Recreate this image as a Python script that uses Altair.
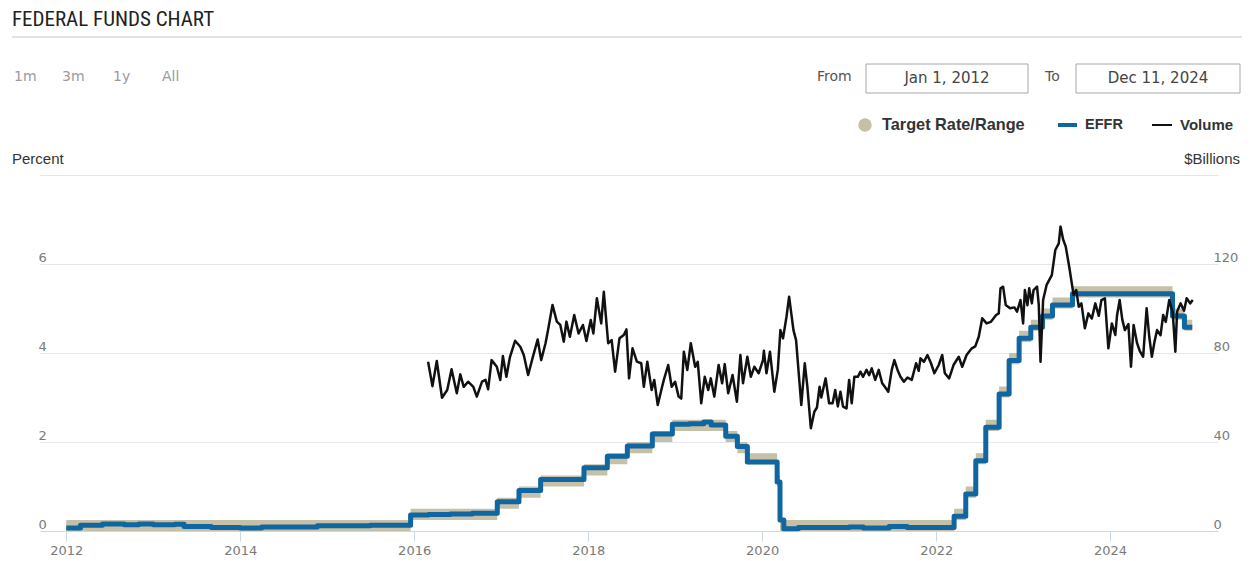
import altair as alt
import pandas as pd
import numpy as np

# ---------------- data ----------------
# Target range (step changes)
target_dates = ["2012-01-01", "2015-12-17", "2016-12-15", "2017-03-16", "2017-06-15",
                "2017-12-14", "2018-03-22", "2018-06-14", "2018-09-27", "2018-12-20",
                "2019-08-01", "2019-09-19", "2019-10-31", "2020-03-04", "2020-03-16",
                "2022-03-17", "2022-05-05", "2022-06-16", "2022-07-28", "2022-09-22",
                "2022-11-03", "2022-12-15", "2023-02-02", "2023-03-23", "2023-05-04",
                "2023-07-27", "2024-09-19", "2024-11-08", "2024-12-11"]
target_lower = [0.0, 0.25, 0.5, 0.75, 1.0, 1.25, 1.5, 1.75, 2.0, 2.25,
                2.0, 1.75, 1.5, 1.0, 0.0, 0.25, 0.75, 1.5, 2.25, 3.0,
                3.75, 4.25, 4.5, 4.75, 5.0, 5.25, 4.75, 4.5, 4.5]
target_upper = [0.25, 0.5, 0.75, 1.0, 1.25, 1.5, 1.75, 2.0, 2.25, 2.5,
                2.25, 2.0, 1.75, 1.25, 0.25, 0.5, 1.0, 1.75, 2.5, 3.25,
                4.0, 4.5, 4.75, 5.0, 5.25, 5.5, 5.0, 4.75, 4.75]

# Effective federal funds rate (percent)
effr_dates = ["2012-01-01", "2012-03-01", "2012-06-01", "2012-09-01", "2012-11-01",
              "2013-01-01", "2013-04-01", "2013-05-10", "2013-09-01", "2014-01-01",
              "2014-04-01", "2014-07-01", "2014-11-20", "2015-04-01", "2015-07-01",
              "2015-10-01", "2015-12-17", "2016-03-01", "2016-06-01", "2016-09-01",
              "2016-12-15", "2017-03-16", "2017-06-15", "2017-12-14", "2018-03-22",
              "2018-06-14", "2018-09-27", "2018-12-20", "2019-03-01", "2019-05-01",
              "2019-06-01", "2019-08-01", "2019-09-19", "2019-10-31", "2020-03-04",
              "2020-03-16", "2020-04-01", "2020-06-01", "2021-01-01", "2021-03-01",
              "2021-06-17", "2021-09-01", "2022-01-01", "2022-03-17", "2022-05-05",
              "2022-06-16", "2022-07-28", "2022-09-22", "2022-11-03", "2022-12-15",
              "2023-02-02", "2023-03-23", "2023-05-04", "2023-07-27", "2024-09-19",
              "2024-11-08", "2024-12-11"]
effr_rate = [0.07, 0.13, 0.16, 0.14, 0.16,
             0.14, 0.15, 0.10, 0.08, 0.07,
             0.09, 0.09, 0.12, 0.12, 0.13,
             0.13, 0.36, 0.37, 0.38, 0.40,
             0.66, 0.91, 1.16, 1.42, 1.68,
             1.91, 2.18, 2.40, 2.41, 2.45,
             2.38, 2.13, 1.90, 1.55, 1.10,
             0.25, 0.05, 0.08, 0.09, 0.07,
             0.10, 0.08, 0.08, 0.33, 0.83,
             1.58, 2.33, 3.08, 3.83, 4.33,
             4.58, 4.83, 5.08, 5.33, 4.83,
             4.58, 4.58]

# Volume ($ billions), dates as decimal years
vol_year = [2016.16, 2016.21, 2016.26, 2016.32, 2016.38, 2016.43, 2016.49, 2016.53, 2016.57, 2016.62,
            2016.68, 2016.72, 2016.78, 2016.82, 2016.85, 2016.89, 2016.95, 2016.99, 2017.02, 2017.06,
            2017.10, 2017.16, 2017.22, 2017.26, 2017.31, 2017.36, 2017.42, 2017.46, 2017.51, 2017.54,
            2017.59, 2017.64, 2017.68, 2017.72, 2017.75, 2017.79, 2017.84, 2017.89, 2017.94, 2017.98,
            2018.03, 2018.06, 2018.10, 2018.15, 2018.18, 2018.23, 2018.27, 2018.31, 2018.36, 2018.41,
            2018.44, 2018.47, 2018.51, 2018.56, 2018.61, 2018.64, 2018.68, 2018.73, 2018.76, 2018.80,
            2018.85, 2018.87, 2018.92, 2018.96, 2019.00, 2019.04, 2019.07, 2019.10, 2019.14, 2019.18,
            2019.23, 2019.26, 2019.30, 2019.34, 2019.38, 2019.41, 2019.45, 2019.50, 2019.54, 2019.57,
            2019.61, 2019.66, 2019.71, 2019.75, 2019.78, 2019.83, 2019.87, 2019.91, 2019.96, 2020.01,
            2020.02, 2020.05, 2020.09, 2020.14, 2020.18, 2020.21, 2020.24, 2020.28, 2020.31, 2020.36,
            2020.39, 2020.43, 2020.45, 2020.49, 2020.52, 2020.56, 2020.60, 2020.63, 2020.66, 2020.68,
            2020.73, 2020.77, 2020.81, 2020.84, 2020.87, 2020.90, 2020.93, 2020.97, 2021.00, 2021.03,
            2021.06, 2021.10, 2021.13, 2021.16, 2021.20, 2021.23, 2021.26, 2021.30, 2021.34, 2021.38,
            2021.41, 2021.45, 2021.49, 2021.52, 2021.56, 2021.59, 2021.63, 2021.67, 2021.72, 2021.77,
            2021.80, 2021.82, 2021.86, 2021.90, 2021.94, 2021.98, 2022.03, 2022.07, 2022.10, 2022.15,
            2022.20, 2022.26, 2022.30, 2022.35, 2022.41, 2022.45, 2022.49, 2022.53, 2022.58, 2022.63,
            2022.69, 2022.72, 2022.74, 2022.77, 2022.80, 2022.85, 2022.90, 2022.93, 2022.97, 2023.00,
            2023.02, 2023.05, 2023.07, 2023.10, 2023.12, 2023.16, 2023.18, 2023.20, 2023.23, 2023.27,
            2023.33, 2023.37, 2023.41, 2023.43, 2023.46, 2023.49, 2023.53, 2023.58, 2023.61, 2023.64,
            2023.67, 2023.71, 2023.75, 2023.79, 2023.83, 2023.87, 2023.90, 2023.94, 2023.98, 2024.02,
            2024.06, 2024.08, 2024.11, 2024.14, 2024.17, 2024.21, 2024.24, 2024.27, 2024.31, 2024.34,
            2024.38, 2024.42, 2024.45, 2024.48, 2024.51, 2024.54, 2024.58, 2024.61, 2024.64, 2024.68,
            2024.72, 2024.75, 2024.77, 2024.81, 2024.85, 2024.88, 2024.92, 2024.95]
vol_bil = [76.1, 65.1, 76.4, 59.9, 63.4, 72.7, 61.9, 70.4, 64.8, 67.1,
           64.8, 60.4, 67.1, 67.9, 63.7, 76.8, 73.8, 67.9, 78.6, 69.3,
           78.0, 85.5, 82.8, 79.1, 70.1, 77.6, 86.1, 76.8, 84.4, 90.6,
           101.6, 94.1, 92.6, 85.1, 94.1, 87.3, 97.1, 88.8, 92.6, 85.4,
           94.8, 88.8, 104.6, 93.3, 107.5, 84.4, 85.8, 71.6, 86.6, 88.1,
           90.6, 68.6, 82.1, 76.1, 75.4, 64.8, 76.1, 63.4, 67.9, 56.6,
           64.8, 67.9, 74.6, 64.8, 67.1, 60.4, 59.5, 80.6, 72.4, 84.4,
           73.8, 76.0, 57.4, 69.3, 63.4, 68.6, 60.4, 74.6, 66.4, 75.0,
           61.9, 70.1, 58.1, 79.1, 66.4, 78.3, 69.3, 73.8, 70.9, 76.8,
           81.0, 70.9, 80.6, 62.6, 72.4, 90.3, 86.6, 96.3, 105.3, 90.3,
           85.8, 66.4, 56.6, 75.4, 64.8, 46.2, 53.6, 55.5, 64.8, 60.0,
           68.6, 57.4, 57.4, 63.4, 56.0, 62.6, 55.9, 55.1, 67.9, 57.4,
           69.3, 69.3, 71.6, 69.3, 72.4, 70.0, 73.1, 67.9, 72.4, 66.4,
           64.8, 62.6, 72.4, 76.8, 72.0, 69.3, 67.1, 69.0, 67.9, 75.4,
           72.0, 77.6, 76.0, 79.1, 75.5, 70.9, 74.6, 79.1, 70.9, 68.6,
           74.6, 78.3, 73.8, 79.1, 82.1, 83.0, 87.3, 95.6, 93.3, 94.0,
           97.1, 97.8, 109.1, 109.8, 101.6, 100.1, 100.5, 98.6, 103.8, 93.3,
           108.3, 101.5, 109.1, 102.3, 108.3, 109.8, 101.6, 76.1, 103.8, 110.6,
           115.0, 126.3, 129.3, 136.8, 131.0, 127.8, 118.8, 106.1, 108.3, 100.8,
           102.3, 91.1, 97.8, 95.5, 102.3, 96.7, 103.8, 104.6, 82.1, 93.3,
           88.1, 97.0, 103.8, 95.0, 90.3, 93.0, 73.8, 92.6, 84.4, 81.0,
           78.3, 100.1, 87.3, 78.3, 85.0, 90.3, 88.0, 97.1, 94.0, 103.8,
           98.0, 80.6, 98.6, 102.3, 99.0, 104.6, 102.3, 103.8]

tick_years = [2012, 2014, 2016, 2018, 2020, 2022, 2024]
left_ticks = [0, 2, 4, 6, 8]
right_ticks = [0, 40, 80, 120, 160]

# ---------------- tables ----------------
target_df = pd.DataFrame({"date": pd.to_datetime(target_dates),
                          "lower": target_lower, "upper": target_upper})
effr_df = pd.DataFrame({"date": pd.to_datetime(effr_dates), "rate": effr_rate})
vy = np.array(vol_year)
vol_df = pd.DataFrame({
    "date": pd.Timestamp("2012-01-01") + pd.to_timedelta((vy - 2012.0) * 365.25, unit="D"),
    "volume": vol_bil})

TAN = "#c6c0a6"
BLUE = "#0f66a1"
GRID = "#e4e7ee"
AXIS = "#ccd6eb"
LABEL = "#7a7a7a"
FONT = "DejaVu Sans"

x_scale = alt.Scale(domain=[alt.DateTime(year=2011, month=9, date=13),
                            alt.DateTime(year=2025, month=3, date=29)])
x_axis = alt.Axis(values=[alt.DateTime(year=y, month=1, date=1) for y in tick_years],
                  format="%Y", title=None, grid=False, domain=True, domainColor=AXIS,
                  tickColor=AXIS, tickSize=10, labelPadding=3, labelFont=FONT,
                  labelFontSize=13, labelColor=LABEL, labelFlush=False)

left_axis = alt.Axis(values=left_ticks, title=None, grid=True, gridColor=GRID,
                     domain=False, ticks=False, tickSize=0, labelAlign="left",
                     labelPadding=2, labelBaseline="alphabetic", labelOffset=-3,
                     labelFont=FONT, labelFontSize=13, labelColor=LABEL,
                     labelExpr="datum.value == 8 ? '' : datum.label")

band = alt.Chart(target_df).mark_area(interpolate="step-after", color=TAN, opacity=1).encode(
    x=alt.X("date:T", scale=x_scale, axis=x_axis),
    y=alt.Y("lower:Q", scale=alt.Scale(domain=[0, 8], nice=False), axis=left_axis),
    y2="upper:Q",
)

effr = alt.Chart(effr_df).mark_line(interpolate="step-after", color=BLUE, strokeWidth=5,
                                    strokeJoin="round").encode(
    x=alt.X("date:T", scale=x_scale, axis=x_axis),
    y=alt.Y("rate:Q", scale=alt.Scale(domain=[0, 8], nice=False), axis=left_axis),
)

rates = alt.layer(band, effr)

vol = alt.Chart(vol_df).mark_line(color="#111111", strokeWidth=2.5, strokeJoin="round").encode(
    x=alt.X("date:T", scale=x_scale, axis=x_axis),
    y=alt.Y("volume:Q", scale=alt.Scale(domain=[0, 160], nice=False),
            axis=alt.Axis(orient="right", values=right_ticks, title=None, grid=False,
                          domain=False, ticks=False, tickSize=0, labelAlign="left",
                          labelPadding=-5, labelBaseline="alphabetic", labelOffset=-3,
                          labelFont=FONT, labelFontSize=13, labelColor=LABEL,
                          labelExpr="datum.value == 160 ? '' : datum.label")),
)

# ---------------- decorations (page coords minus plot origin 40,175) ----------------
one = pd.DataFrame({"k": [0]})


def txt(s, x, y, size=14, color="#333", font="Liberation Sans", weight="normal", align="left"):
    return alt.Chart(one).mark_text(text=s, fontSize=size, color=color, font=font,
                                    fontWeight=weight, align=align, baseline="middle").encode(
        x=alt.value(x), y=alt.value(y))


deco = [
    txt("FEDERAL FUNDS CHART", -28, -155, size=21, color="#222",
        font="Liberation Sans Narrow, Arial Narrow, Roboto Condensed, Roboto"),
    alt.Chart(one).mark_rule(color="#e2e2e2", strokeWidth=2).encode(
        x=alt.value(-28), x2=alt.value(1210), y=alt.value(-138)),
    txt("1m", -26, -98, size=14, color="#9a9a9a", font=FONT),
    txt("3m", 22, -98, size=14, color="#9a9a9a", font=FONT),
    txt("1y", 73, -98, size=14, color="#9a9a9a", font=FONT),
    txt("All", 122, -98, size=14, color="#9a9a9a", font=FONT),
    txt("From", 777, -98, size=14, color="#555", font=FONT),
    alt.Chart(one).mark_rect(fill="white", stroke="#a8a8a8", strokeWidth=1).encode(
        x=alt.value(826), x2=alt.value(988), y=alt.value(-111), y2=alt.value(-82)),
    txt("Jan 1, 2012", 907, -97, size=15, color="#444", font=FONT, align="center"),
    txt("To", 1005, -98, size=14, color="#555", font=FONT),
    alt.Chart(one).mark_rect(fill="white", stroke="#a8a8a8", strokeWidth=1).encode(
        x=alt.value(1036), x2=alt.value(1200), y=alt.value(-111), y2=alt.value(-82)),
    txt("Dec 11, 2024", 1118, -97, size=15, color="#444", font=FONT, align="center"),
    alt.Chart(one).mark_point(shape="circle", filled=True, size=180, color=TAN, opacity=1).encode(
        x=alt.value(825), y=alt.value(-50)),
    txt("Target Rate/Range", 842, -50, size=16.3, color="#333", weight="bold"),
    alt.Chart(one).mark_rule(color=BLUE, strokeWidth=4).encode(
        x=alt.value(1018), x2=alt.value(1037), y=alt.value(-50)),
    txt("EFFR", 1045, -50, size=14.5, color="#333", weight="bold"),
    alt.Chart(one).mark_rule(color="#111", strokeWidth=2).encode(
        x=alt.value(1112), x2=alt.value(1132), y=alt.value(-50)),
    txt("Volume", 1140, -50, size=15, color="#333", weight="bold"),
    txt("Percent", -28, -16, size=15, color="#333"),
    txt("$Billions", 1200, -16, size=15, color="#333", align="right"),
]

chart = alt.layer(rates, vol, *deco).resolve_scale(y="independent").properties(
    width=1178, height=356,
    padding={"left": 32, "top": 167, "right": 24, "bottom": 30},
    autosize=alt.AutoSizeParams(type="none"),
    background="white",
).configure_view(strokeWidth=0, stroke="transparent")

chart.save("out.html", embed_options={"renderer": "svg", "actions": False})
